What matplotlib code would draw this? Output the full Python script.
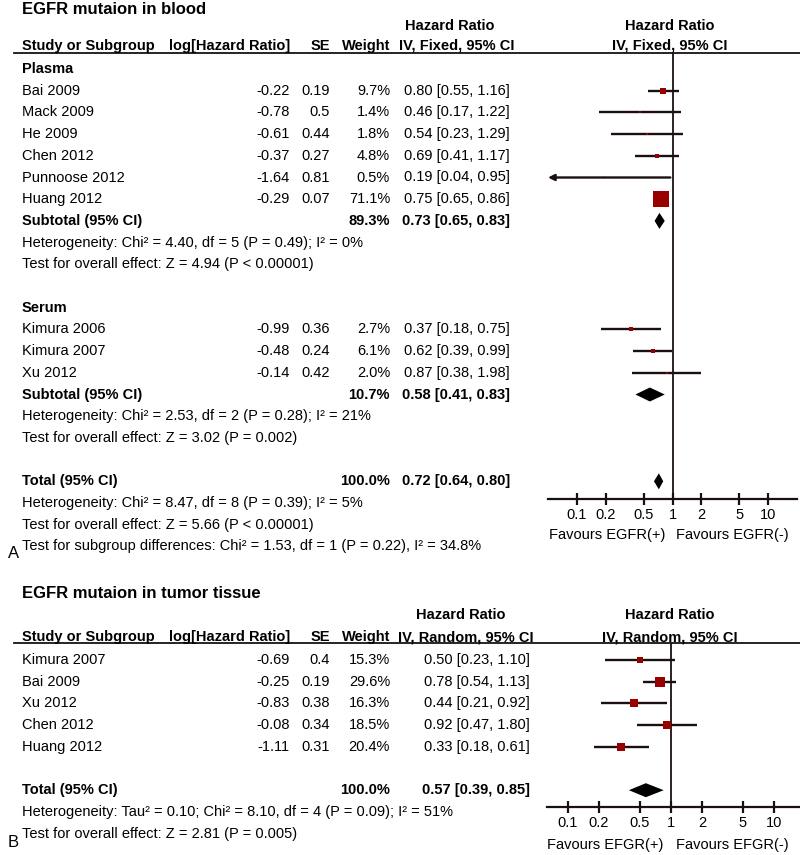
import numpy as np
import matplotlib
matplotlib.use("Agg")
import matplotlib.pyplot as plt

plt.rcParams['font.family'] = ['Liberation Sans', 'DejaVu Sans']

# ---- data: panel A (blood) ----
plasma_names = ['Bai 2009', 'Mack 2009', 'He 2009', 'Chen 2012', 'Punnoose 2012', 'Huang 2012']
plasma_loghr = [-0.22, -0.78, -0.61, -0.37, -1.64, -0.29]
plasma_se = [0.19, 0.5, 0.44, 0.27, 0.81, 0.07]
plasma_w = [9.7, 1.4, 1.8, 4.8, 0.5, 71.1]
plasma_hr = [0.80, 0.46, 0.54, 0.69, 0.19, 0.75]
plasma_lo = [0.55, 0.17, 0.23, 0.41, 0.04, 0.65]
plasma_hi = [1.16, 1.22, 1.29, 1.17, 0.95, 0.86]

serum_names = ['Kimura 2006', 'Kimura 2007', 'Xu 2012']
serum_loghr = [-0.99, -0.48, -0.14]
serum_se = [0.36, 0.24, 0.42]
serum_w = [2.7, 6.1, 2.0]
serum_hr = [0.37, 0.62, 0.87]
serum_lo = [0.18, 0.39, 0.38]
serum_hi = [0.75, 0.99, 1.98]

# subtotal / total: weight, HR, lower, upper
plasma_sub = [89.3, 0.73, 0.65, 0.83]
serum_sub = [10.7, 0.58, 0.41, 0.83]
blood_total = [100.0, 0.72, 0.64, 0.80]

# ---- data: panel B (tumor tissue) ----
tissue_names = ['Kimura 2007', 'Bai 2009', 'Xu 2012', 'Chen 2012', 'Huang 2012']
tissue_loghr = [-0.69, -0.25, -0.83, -0.08, -1.11]
tissue_se = [0.4, 0.19, 0.38, 0.34, 0.31]
tissue_w = [15.3, 29.6, 16.3, 18.5, 20.4]
tissue_hr = [0.50, 0.78, 0.44, 0.92, 0.33]
tissue_lo = [0.23, 0.54, 0.21, 0.47, 0.18]
tissue_hi = [1.10, 1.13, 0.92, 1.80, 0.61]
tissue_total = [100.0, 0.57, 0.39, 0.85]

tick_vals = [0.1, 0.2, 0.5, 1, 2, 5, 10]
tick_labels = ['0.1', '0.2', '0.5', '1', '2', '5', '10']

W, H = 800, 855
fig = plt.figure(figsize=(W / 100, H / 100), dpi=100)

FS = 10.5
dark = '#1a1010'
red = '#990000'


def txt(x, y, s, ha='left', bold=False, size=FS, **kw):
    fig.text(x / W, 1 - y / H, s, ha=ha, va='center', fontsize=size,
             fontweight='bold' if bold else 'normal', color='black', **kw)


def hline(y, x0=14, x1=800):
    fig.add_artist(plt.Line2D([x0 / W, x1 / W], [1 - y / H, 1 - y / H],
                              color=dark, lw=1.3))


def study_row(y, name, lh, se, w, hr, lo, hi, ci_right):
    txt(22, y, name)
    txt(290, y, f'{lh:.2f}', ha='right')
    txt(330, y, f'{se:g}', ha='right')
    txt(390, y, f'{w:.1f}%', ha='right')
    txt(ci_right, y, f'{hr:.2f} [{lo:.2f}, {hi:.2f}]', ha='right')


def total_row(y, label, vals, ci_right):
    w, hr, lo, hi = vals
    txt(22, y, label, bold=True)
    txt(390, y, f'{w:.1f}%', ha='right', bold=True)
    txt(ci_right, y, f'{hr:.2f} [{lo:.2f}, {hi:.2f}]', ha='right', bold=True)


def forest_axes(x0, x1, ytop, ybot, xlim):
    ax = fig.add_axes([x0 / W, 1 - ybot / H, (x1 - x0) / W, (ybot - ytop) / H])
    ax.set_xscale('log')
    ax.set_xlim(*xlim)
    ax.set_ylim(ybot, ytop)
    for s in ['left', 'right', 'top']:
        ax.spines[s].set_visible(False)
    ax.spines['bottom'].set_color(dark)
    ax.spines['bottom'].set_linewidth(1.6)
    ax.set_yticks([])
    ax.set_xticks(tick_vals)
    ax.set_xticklabels(tick_labels, fontsize=FS)
    ax.xaxis.set_minor_locator(matplotlib.ticker.NullLocator())
    ax.tick_params(axis='x', direction='inout', length=9, width=1.6, color=dark, pad=2)
    ax.axvline(1, color=dark, lw=1.3)
    ax.patch.set_alpha(0)
    return ax


def draw_study(ax, y, hr, lo, hi, w, scale):
    xmin = ax.get_xlim()[0]
    if lo < xmin:
        ax.annotate('', xy=(xmin, y), xytext=(hi, y),
                    arrowprops=dict(arrowstyle='-|>', color=dark, lw=1.7,
                                    mutation_scale=9, shrinkA=0, shrinkB=0))
    else:
        ax.plot([lo, hi], [y, y], color=dark, lw=1.7, solid_capstyle='butt')
    side = scale * np.sqrt(w)
    ax.plot([hr], [y], marker='s', ms=side * 0.72, color=red, mec=red, mew=0)


def draw_diamond(ax, y, vals, half):
    w, hr, lo, hi = vals
    ax.fill([lo, hr, hi, hr], [y, y - half, y, y + half], color='black', lw=0)


step = 21.7

# ================= Panel A =================
txt(22, 10, 'EGFR mutaion in blood', bold=True, size=12)
txt(450, 26, 'Hazard Ratio', ha='center', bold=True)
txt(670, 26, 'Hazard Ratio', ha='center', bold=True)
hy = 46
txt(22, hy, 'Study or Subgroup', bold=True)
txt(290, hy, 'log[Hazard Ratio]', ha='right', bold=True)
txt(330, hy, 'SE', ha='right', bold=True)
txt(390, hy, 'Weight', ha='right', bold=True)
txt(457, hy, 'IV, Fixed, 95% CI', ha='center', bold=True)
txt(670, hy, 'IV, Fixed, 95% CI', ha='center', bold=True)
hline(53)

y0 = 69
axA = forest_axes(548, 797, 53, 499, (0.05, 20))
scaleA = 16 / np.sqrt(71.1)

txt(22, y0, 'Plasma', bold=True)
for i in range(len(plasma_names)):
    y = y0 + (i + 1) * step
    study_row(y, plasma_names[i], plasma_loghr[i], plasma_se[i], plasma_w[i],
              plasma_hr[i], plasma_lo[i], plasma_hi[i], 510)
    draw_study(axA, y, plasma_hr[i], plasma_lo[i], plasma_hi[i], plasma_w[i], scaleA)
y = y0 + 7 * step
total_row(y, 'Subtotal (95% CI)', plasma_sub, 510)
draw_diamond(axA, y, plasma_sub, 8)
txt(22, y0 + 8 * step, 'Heterogeneity: Chi² = 4.40, df = 5 (P = 0.49); I² = 0%')
txt(22, y0 + 9 * step, 'Test for overall effect: Z = 4.94 (P < 0.00001)')

txt(22, y0 + 11 * step, 'Serum', bold=True)
for i in range(len(serum_names)):
    y = y0 + (12 + i) * step
    study_row(y, serum_names[i], serum_loghr[i], serum_se[i], serum_w[i],
              serum_hr[i], serum_lo[i], serum_hi[i], 510)
    draw_study(axA, y, serum_hr[i], serum_lo[i], serum_hi[i], serum_w[i], scaleA)
y = y0 + 15 * step
total_row(y, 'Subtotal (95% CI)', serum_sub, 510)
draw_diamond(axA, y, serum_sub, 7)
txt(22, y0 + 16 * step, 'Heterogeneity: Chi² = 2.53, df = 2 (P = 0.28); I² = 21%')
txt(22, y0 + 17 * step, 'Test for overall effect: Z = 3.02 (P = 0.002)')

y = y0 + 19 * step
total_row(y, 'Total (95% CI)', blood_total, 510)
draw_diamond(axA, y, blood_total, 8)
txt(22, y0 + 20 * step, 'Heterogeneity: Chi² = 8.47, df = 8 (P = 0.39); I² = 5%')
txt(22, y0 + 21 * step, 'Test for overall effect: Z = 5.66 (P < 0.00001)')
txt(22, y0 + 22 * step, 'Test for subgroup differences: Chi² = 1.53, df = 1 (P = 0.22), I² = 34.8%')
txt(8, 553, 'A', size=12)
txt(607, 535, 'Favours EGFR(+)', ha='center')
txt(732, 535, 'Favours EGFR(-)', ha='center')

# ================= Panel B =================
txt(22, 593, 'EGFR mutaion in tumor tissue', bold=True, size=12)
txt(461, 615, 'Hazard Ratio', ha='center', bold=True)
txt(670, 615, 'Hazard Ratio', ha='center', bold=True)
hy = 637
txt(22, hy, 'Study or Subgroup', bold=True)
txt(290, hy, 'log[Hazard Ratio]', ha='right', bold=True)
txt(330, hy, 'SE', ha='right', bold=True)
txt(390, hy, 'Weight', ha='right', bold=True)
txt(466, hy, 'IV, Random, 95% CI', ha='center', bold=True)
txt(670, hy, 'IV, Random, 95% CI', ha='center', bold=True)
hline(643)

decade = 103
xl = (10 ** (-(671 - 547) / decade), 10 ** ((800 - 671) / decade))
axB = forest_axes(547, 800, 643, 807, xl)
scaleB = 1.75

y1 = 660
for i in range(len(tissue_names)):
    y = y1 + i * step
    study_row(y, tissue_names[i], tissue_loghr[i], tissue_se[i], tissue_w[i],
              tissue_hr[i], tissue_lo[i], tissue_hi[i], 530)
    draw_study(axB, y, tissue_hr[i], tissue_lo[i], tissue_hi[i], tissue_w[i], scaleB)
y = y1 + 6 * step
total_row(y, 'Total (95% CI)', tissue_total, 530)
draw_diamond(axB, y, tissue_total, 7)
txt(22, y1 + 7 * step, 'Heterogeneity: Tau² = 0.10; Chi² = 8.10, df = 4 (P = 0.09); I² = 51%')
txt(22, y1 + 8 * step, 'Test for overall effect: Z = 2.81 (P = 0.005)')
txt(8, 842, 'B', size=12)
txt(605, 845, 'Favours EFGR(+)', ha='center')
txt(732, 845, 'Favours EFGR(-)', ha='center')

fig.savefig('out.png', dpi=100)
